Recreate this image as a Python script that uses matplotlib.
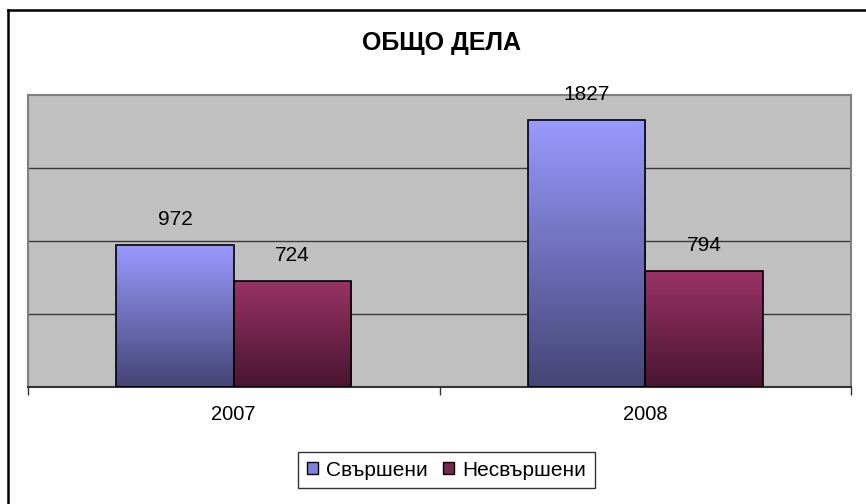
import matplotlib.pyplot as plt
import numpy as np
from matplotlib.colors import LinearSegmentedColormap
from matplotlib.patches import Patch
from matplotlib.lines import Line2D

plt.rcParams["font.family"] = ["Liberation Sans", "DejaVu Sans"]

# data
years = ["2007", "2008"]
done = [972, 1827]
not_done = [724, 794]
series_names = ["Свършени", "Несвършени"]

W, H = 866, 504
fig = plt.figure(figsize=(W / 100, H / 100), dpi=100)
fig.patch.set_facecolor("white")

ax = fig.add_axes([28 / W, 1 - 387 / H, (851 - 28) / W, (387 - 95) / H])
ax.set_facecolor("#c0c0c0")

x = np.arange(len(years))
bw = 1 / 3.5

grads = [
    ("#9999ff", "#454576"),  # blue: top, bottom
    ("#993366", "#4a1530"),  # red
]

def gradient_bars(xs, vals, top_col, bot_col):
    bars = ax.bar(xs, vals, width=bw, facecolor="none", edgecolor="black",
                  linewidth=1.2, zorder=3)
    cmap = LinearSegmentedColormap.from_list("g", [bot_col, top_col])
    grad = np.linspace(0, 1, 256).reshape(-1, 1)
    for b in bars:
        x0, y0 = b.get_x(), b.get_y()
        w, h = b.get_width(), b.get_height()
        im = ax.imshow(grad, cmap=cmap, aspect="auto", origin="lower",
                       extent=[x0, x0 + w, y0, y0 + h], zorder=2)
        im.set_clip_path(b)
    return bars

b1 = gradient_bars(x - bw / 2, done, *grads[0])
b2 = gradient_bars(x + bw / 2, not_done, *grads[1])

for bars, vals in ((b1, done), (b2, not_done)):
    for b, v in zip(bars, vals):
        ax.annotate(str(v), (b.get_x() + b.get_width() / 2, v),
                    xytext=(0, 14.4), textcoords="offset points",
                    ha="center", va="baseline", fontsize=15)

ax.set_xlim(-0.5, 1.5)
ax.set_ylim(0, 2000)
ax.set_yticks([500, 1000, 1500])
ax.yaxis.grid(True, color="#3a3a3a", linewidth=1)
ax.set_axisbelow(True)
ax.tick_params(axis="y", left=False, labelleft=False)

ax.set_xticks([-0.5, 0.5, 1.5])
ax.set_xticklabels([])
ax.set_xticks(x, minor=True)
ax.set_xticklabels(years, minor=True, fontsize=14.5)
ax.tick_params(axis="x", which="major", length=6, width=1, color="#333333",
               direction="out")
ax.tick_params(axis="x", which="minor", length=0, pad=13)

for s in ("top", "right", "left"):
    ax.spines[s].set_color("#808080")
    ax.spines[s].set_linewidth(1.5)
ax.spines["bottom"].set_color("#333333")
ax.spines["bottom"].set_linewidth(1.5)

fig.text(441 / W, 1 - 43 / H, "ОБЩО ДЕЛА", ha="center", va="center",
         fontsize=18, fontweight="bold")

handles = [Patch(facecolor="#8080d8", edgecolor="black", linewidth=1),
           Patch(facecolor="#772850", edgecolor="black", linewidth=1)]
leg = fig.legend(handles, series_names, loc="center",
                 bbox_to_anchor=(446.5 / W, 1 - 470 / H), ncol=2,
                 fontsize=15, frameon=True, fancybox=False,
                 edgecolor="black", handlelength=0.55, handleheight=0.55,
                 handletextpad=0.4, columnspacing=0.7, borderpad=0.4,
                 borderaxespad=0)
leg.get_frame().set_linewidth(1)

# outer chart frame (only left and top visible)
fig.add_artist(Line2D([8 / W, 8 / W], [0, 1 - 10 / H], color="black",
                      linewidth=1.8, transform=fig.transFigure))
fig.add_artist(Line2D([8 / W, 1], [1 - 10 / H, 1 - 10 / H], color="black",
                      linewidth=1.8, transform=fig.transFigure))

fig.savefig("out.png", dpi=100)
